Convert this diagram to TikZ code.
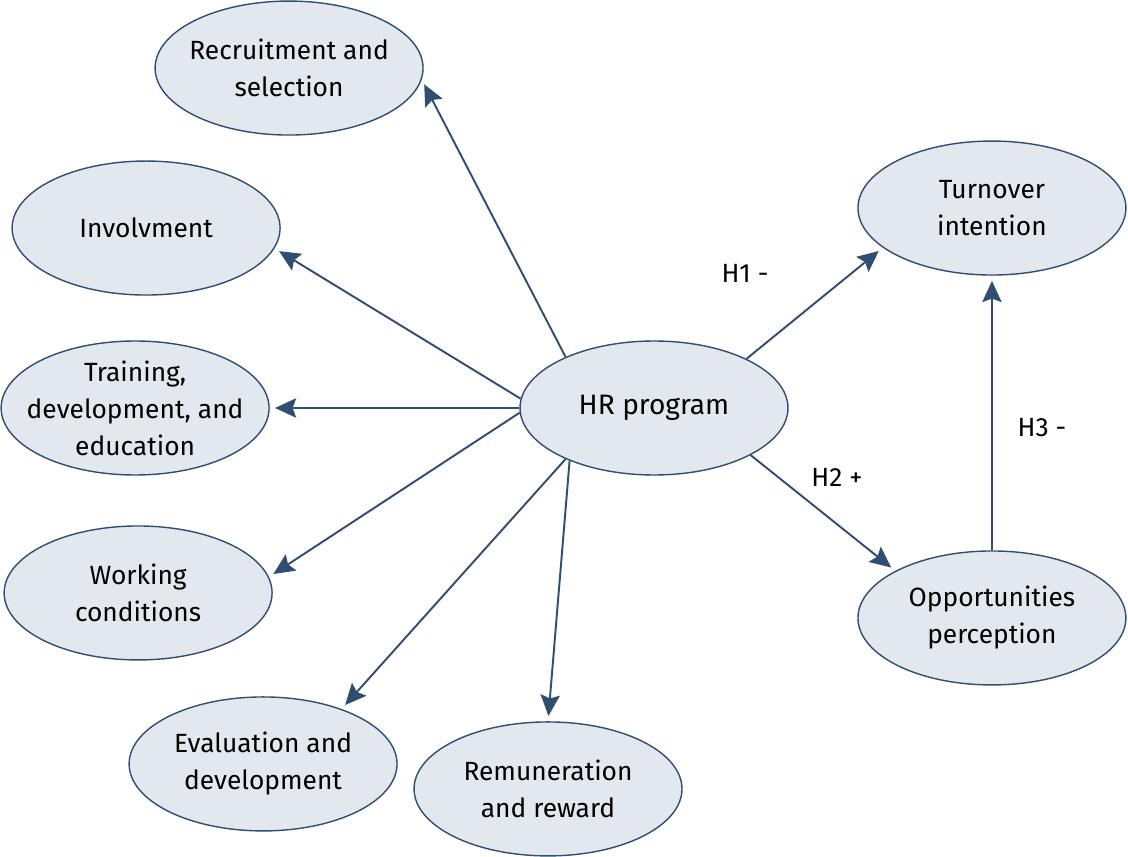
\documentclass[tikz,border=0pt]{standalone}
\usepackage{fontspec}
\setmainfont{Fira Sans}
\usetikzlibrary{shapes.geometric,positioning,arrows.meta}
\definecolor{hrline}{HTML}{2F4E72}
\definecolor{hrfill}{HTML}{E3E8EF}

\begin{document}
\begin{tikzpicture}[x=0.02cm,y=-0.02cm,on grid,
    factor/.style={ellipse,draw=hrline,fill=hrfill,line width=0.8pt,
      minimum width=5.36cm,minimum height=2.68cm,inner xsep=-1.5cm,inner ysep=-0.7cm,
      align=center,font=\fontsize{15}{21}\selectfont},
    hyp/.style={font=\fontsize{15}{21}\selectfont},
    link/.style={-{Stealth[length=12pt,width=11pt,inset=2pt]},color=hrline,
      line width=1.1pt,shorten >=3pt}]
                \useasboundingbox (0,0) rectangle (1128,857);
                \node[factor](hr) at (654,408) {\fontsize{16}{21}\selectfont HR program};
                \node[factor](rec) [above left=6.8cm and 7.3cm of hr] {Recruitment and\\selection};
                \node[factor](inv) [above left=3.6cm and 10.16cm of hr] {Involvment};
                \node[factor](tra) [left=10.38cm of hr] {Training,\\development, and\\education};
                \node[factor](wor) [below left=3.7cm and 10.32cm of hr] {Working\\conditions};
                \node[factor](eva) [below left=7.12cm and 7.82cm of hr] {Evaluation and\\development};
                \node[factor](rem) [below left=7.62cm and 2.12cm of hr] {Remuneration\\and reward};
                \node[factor](tur) [above right=4cm and 6.76cm of hr] {Turnover\\intention};
                \node[factor](opp) [below right=4.2cm and 6.76cm of hr] {Opportunities\\perception};
                \node[hyp](h1) [above right=2.7cm and 1.82cm of hr] {H1 -};
                \node[hyp](h2) [below right=1.38cm and 3.66cm of hr] {H2 +};
                \node[hyp](h3) [below right=0.4cm and 7.76cm of hr] {H3 -};
                \path[link]
                (hr.150) edge (rec.-5)
                (hr.176) edge (inv.-9)
                (hr.180) edge (tra.0)
                (hr.182) edge (wor.7)
                (hr.210) edge (eva.35)
                (hr.212) edge (rem.90)
                (hr.28) edge (tur.200)
                (hr.334) edge (opp.154)
                (opp.north) edge (tur.south);
            \end{tikzpicture}
\end{document}
